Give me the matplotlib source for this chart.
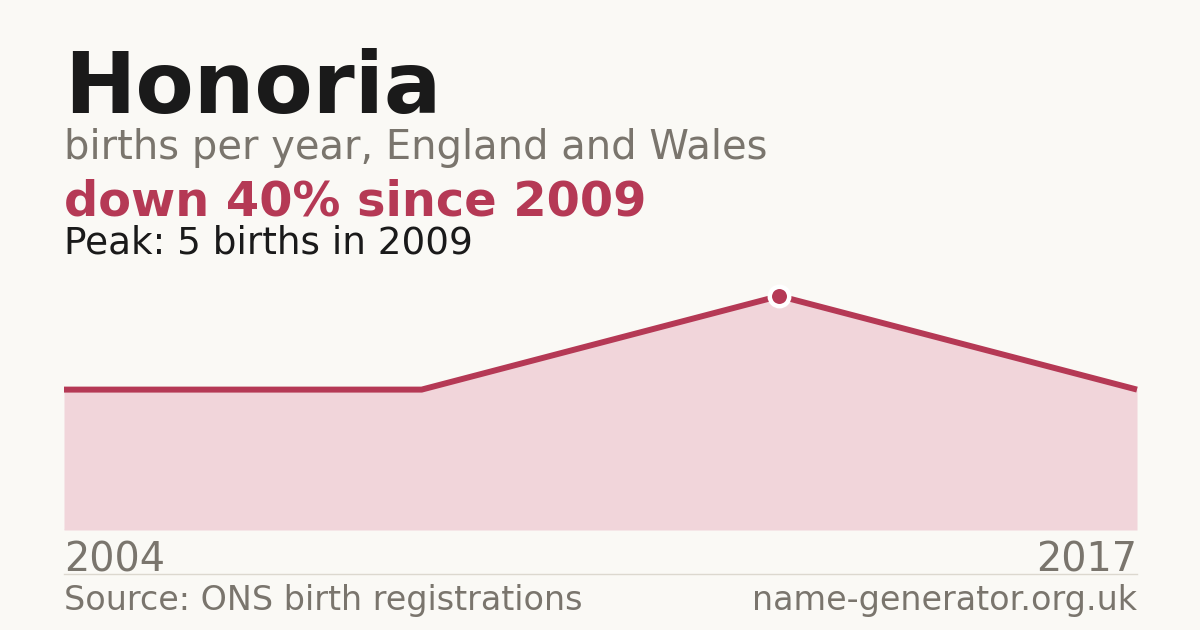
import matplotlib
matplotlib.use("Agg")
import matplotlib.pyplot as plt

# Data
years = [2004, 2008, 2009, 2017]
births = [3, 3, 5, 3]
name = "Honoria"
subtitle = "births per year, England and Wales"
headline = "down 40% since 2009"
peak_text = "Peak: 5 births in 2009"
first_year_label = "2004"
last_year_label = "2017"
source = "Source: ONS birth registrations"
site = "name-generator.org.uk"

BG = "#faf9f5"
RED = "#b53955"
FILL = "#f1d5da"
GRAY = "#7a756d"
DARK = "#1a1a1a"
RULE = "#dcd8cf"

W, H = 1200, 630
fig = plt.figure(figsize=(12, 6.3), dpi=100, facecolor=BG)

def fx(px):
    return px / W

def fy(py):
    return (H - py) / H

ax = fig.add_axes([fx(64), fy(530), fx(1137) - fx(64), fy(296) - fy(530)])
ax.set_facecolor("none")
idx = list(range(len(years)))
ax.axhline(0, color=RULE, lw=1, zorder=0)
ax.fill_between(idx, births, 0, color=FILL, lw=0, zorder=1)
ax.plot(idx, births, color=RED, lw=4.3, solid_capstyle="butt", zorder=2, clip_on=False)
pk = births.index(max(births))
ax.plot([idx[pk]], [births[pk]], "o", ms=14, mfc=RED, mec="white", mew=3.2,
        zorder=3, clip_on=False)
ax.set_xlim(0, len(years) - 1)
ax.set_ylim(0, max(births))
ax.axis("off")

fig.text(fx(64), fy(113), name, fontsize=61.3, fontweight="bold", color=DARK, va="baseline", ha="left")
fig.text(fx(64), fy(159), subtitle, fontsize=28.8, color=GRAY, va="baseline", ha="left")
fig.text(fx(64), fy(215), headline, fontsize=34.5, fontweight="bold", color=RED, va="baseline", ha="left")
fig.text(fx(64), fy(253), peak_text, fontsize=26.9, color=DARK, va="baseline", ha="left")
fig.text(fx(64), fy(571), first_year_label, fontsize=28.6, color=GRAY, va="baseline", ha="left")
fig.text(fx(1137), fy(571), last_year_label, fontsize=28.6, color=GRAY, va="baseline", ha="right")
fig.add_artist(plt.Line2D([fx(64), fx(1137)], [fy(574), fy(574)], color=RULE, lw=1))
fig.text(fx(64), fy(610), source, fontsize=24, color=GRAY, va="baseline", ha="left")
fig.text(fx(1137), fy(610), site, fontsize=24, color=GRAY, va="baseline", ha="right")

fig.savefig("out.png", dpi=100, facecolor=BG)
